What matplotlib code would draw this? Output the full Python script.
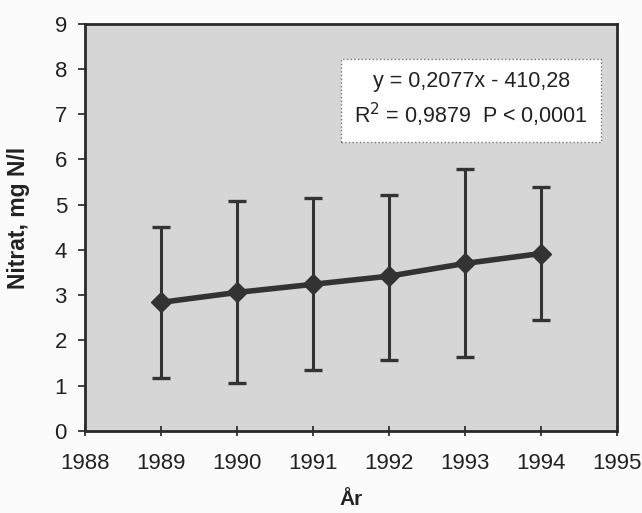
import matplotlib
matplotlib.use("Agg")
import matplotlib.pyplot as plt

plt.rcParams['font.family'] = ['Liberation Sans', 'DejaVu Sans']

# Annual mean nitrate with the spread of observations
years = [1989, 1990, 1991, 1992, 1993, 1994]
nitrate_mean = [2.84, 3.06, 3.24, 3.42, 3.70, 3.92]
nitrate_high = [4.51, 5.08, 5.15, 5.21, 5.78, 5.39]
nitrate_low = [1.18, 1.07, 1.34, 1.57, 1.63, 2.45]

x_ticks = [1988, 1989, 1990, 1991, 1992, 1993, 1994, 1995]
y_ticks = [0, 1, 2, 3, 4, 5, 6, 7, 8, 9]

fit_text = "y = 0,2077x - 410,28\nR$^2$ = 0,9879  P < 0,0001"

fig = plt.figure(figsize=(6.42, 5.13), dpi=100)
fig.patch.set_facecolor('#fbfbfb')
ax = fig.add_axes([85 / 642, 1 - 431 / 513, (617 - 85) / 642, (431 - 23.5) / 513])
ax.set_facecolor('#d6d6d6')

dark = '#333333'
err_lo = [m - l for m, l in zip(nitrate_mean, nitrate_low)]
err_hi = [h - m for m, h in zip(nitrate_mean, nitrate_high)]
ax.errorbar(years, nitrate_mean, yerr=[err_lo, err_hi], fmt='none',
            ecolor=dark, elinewidth=2.2, capsize=6.5, capthick=2.4, zorder=2)
ax.plot(years, nitrate_mean, color=dark, linewidth=4, marker='D',
        markersize=10, markerfacecolor=dark, markeredgecolor=dark, zorder=3)

ax.set_xlim(1988, 1995)
ax.set_ylim(0, 9)
ax.set_xticks(x_ticks)
ax.set_yticks(y_ticks)
ax.tick_params(axis='both', labelsize=16, colors='#222222', width=1.2)
ax.tick_params(axis='x', direction='inout', length=7, pad=12)
ax.tick_params(axis='y', direction='out', length=5, pad=8)
for s in ax.spines.values():
    s.set_linewidth(2.0)
    s.set_color('#2a2a2a')

ax.set_xlabel('År', fontsize=15, fontweight='bold', color='#222222', labelpad=12)
ax.set_ylabel('Nitrat, mg N/l', fontsize=16.5, fontweight='bold', color='#222222')
ax.yaxis.set_label_coords(-0.104, 0.522)

ax.text(0.726, 0.812, fit_text, transform=ax.transAxes, ha='center', va='center',
        fontsize=15.5, color='#222222', linespacing=1.4,
        bbox=dict(boxstyle='square,pad=0.6', facecolor='white',
                  edgecolor='#777777', linestyle=':', linewidth=1.0))

fig.savefig('out.png', dpi=100, facecolor=fig.get_facecolor())
